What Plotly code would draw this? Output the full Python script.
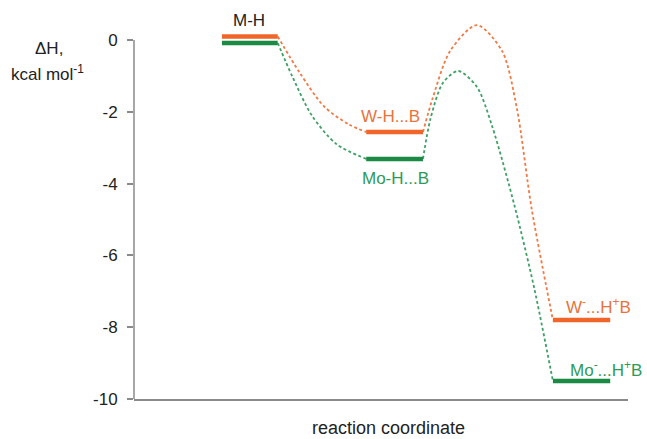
import plotly.graph_objects as go

# ---- data ----
# energy levels: x-span in "reaction coordinate" units (0..100), y in kcal/mol
level_names = ["M-H (W)", "M-H (Mo)", "W-H...B", "Mo-H...B", "W-...H+B", "Mo-...H+B"]
level_x0 = [17.8, 17.8, 47.0, 47.0, 84.8, 84.8]
level_x1 = [29.1, 29.1, 58.5, 58.5, 96.4, 96.4]
level_y = [0.1, -0.08, -2.56, -3.31, -7.8, -9.5]
level_series = ["W", "Mo", "W", "Mo", "W", "Mo"]

# dashed connecting paths
w_path1_x = [29.1, 33.5, 38.5, 43.5, 47.0]
w_path1_y = [0.1, -0.9, -1.85, -2.35, -2.56]
mo_path1_x = [29.1, 32.0, 36.0, 41.0, 47.0]
mo_path1_y = [-0.08, -1.0, -2.1, -2.9, -3.31]
w_path2_x = [58.5, 60.5, 64.0, 69.4, 74.5, 77.5, 80.5, 84.8]
w_path2_y = [-2.56, -1.6, -0.3, 0.42, -0.3, -1.9, -4.7, -7.8]
mo_path2_x = [58.5, 60.0, 62.5, 65.6, 69.4, 72.5, 77.0, 81.0, 84.8]
mo_path2_y = [-3.31, -2.2, -1.2, -0.86, -1.3, -2.4, -4.6, -6.9, -9.5]

# labels
label_text = ["M-H", "W-H...B", "Mo-H...B", "W<sup>-</sup>...H<sup>+</sup>B", "Mo<sup>-</sup>...H<sup>+</sup>B"]
label_x = [23.3, 52.0, 53.0, 94.0, 95.5]
label_y = [0.55, -2.13, -3.85, -7.4, -9.15]
label_series = ["K", "W", "Mo", "W", "Mo"]

y_ticks = [0, -2, -4, -6, -8, -10]

# ---- style ----
LEVEL_COL = {"W": "#F0652A", "Mo": "#1B8A45"}
DASH_COL = {"W": "#F07A45", "Mo": "#3FA066"}
TEXT_COL = {"W": "#E8733C", "Mo": "#2F9A57", "K": "#222222"}
FONT = "Liberation Sans, Arial, sans-serif"

fig = go.Figure()

for px_, py_, s in [(w_path1_x, w_path1_y, "W"), (mo_path1_x, mo_path1_y, "Mo"),
                    (w_path2_x, w_path2_y, "W"), (mo_path2_x, mo_path2_y, "Mo")]:
    fig.add_trace(go.Scatter(x=px_, y=py_, mode="lines",
                             line=dict(color=DASH_COL[s], width=1.8, dash="3px,2.5px",
                                       shape="spline", smoothing=0.8),
                             hoverinfo="skip", showlegend=False))

for x0, x1, y, s in zip(level_x0, level_x1, level_y, level_series):
    fig.add_trace(go.Scatter(x=[x0, x1], y=[y, y], mode="lines",
                             line=dict(color=LEVEL_COL[s], width=4.5),
                             hoverinfo="skip", showlegend=False))

for t, x, y, s in zip(label_text, label_x, label_y, label_series):
    fig.add_annotation(x=x, y=y, text=t, showarrow=False, xref="x", yref="y",
                       font=dict(family=FONT, size=17, color=TEXT_COL[s]))

# y axis line (only from -10 to 0)
fig.add_shape(type="line", xref="paper", yref="y", x0=0, x1=0, y0=-10, y1=0,
              line=dict(color="#8a8a8a", width=1.5))

# axis titles
fig.add_annotation(xref="paper", yref="paper", x=-0.172, y=0.914, yanchor="middle",
                   xanchor="center", showarrow=False,
                   text="ΔH,", font=dict(family=FONT, size=17, color="#222222"))
fig.add_annotation(xref="paper", yref="paper", x=-0.176, y=0.849, yanchor="middle",
                   xanchor="center", showarrow=False,
                   text="kcal mol<sup>-1</sup>", font=dict(family=FONT, size=17, color="#222222"))
fig.add_annotation(xref="paper", yref="paper", x=0.516, y=-0.0755, yanchor="middle",
                   xanchor="center", showarrow=False,
                   text="reaction coordinate", font=dict(family=FONT, size=18, color="#222222"))

fig.update_xaxes(range=[0, 100], showgrid=False, zeroline=False, showticklabels=False,
                 showline=True, linecolor="#8a8a8a", linewidth=1.5, ticks="")
fig.update_yaxes(range=[-10, 0.7], showgrid=False, zeroline=False, showline=False,
                 tickvals=y_ticks, ticktext=[str(v) for v in y_ticks],
                 ticks="outside", ticklen=6, tickcolor="#8a8a8a", tickwidth=1.5,
                 ticklabelstandoff=6,
                 tickfont=dict(family=FONT, size=17, color="#222222"))

fig.update_layout(width=647, height=439, margin=dict(l=134, r=19, t=15, b=40),
                  plot_bgcolor="white", paper_bgcolor="white")

fig.write_html("out.html")
